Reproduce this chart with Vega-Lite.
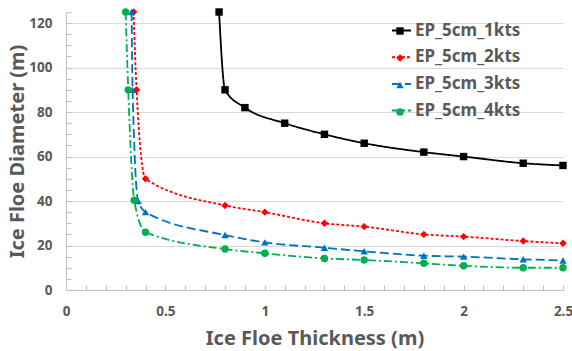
{
  "$schema": "https://vega.github.io/schema/vega-lite/v6.json",
  "width": 497,
  "height": 278,
  "autosize": "none",
  "padding": {"left": 66, "top": 12, "right": 9, "bottom": 61},
  "config": {
    "view": {"stroke": null},
    "font": "Noto Sans",
    "axis": {
      "labelFont": "Noto Sans", "labelFontWeight": "bold", "labelFontSize": 13.5, "labelColor": "#595959",
      "titleFont": "Noto Sans", "titleFontWeight": "bold", "titleFontSize": 20, "titleColor": "#595959",
      "domainColor": "#bfbfbf", "tickColor": "#bfbfbf", "gridColor": "#d9d9d9"
    }
  },
  "data": {"values": [
    {"series": "EP_5cm_1kts", "t": 0.77, "d": 125},
    {"series": "EP_5cm_1kts", "t": 0.80, "d": 90},
    {"series": "EP_5cm_1kts", "t": 0.90, "d": 82},
    {"series": "EP_5cm_1kts", "t": 1.10, "d": 75},
    {"series": "EP_5cm_1kts", "t": 1.30, "d": 70},
    {"series": "EP_5cm_1kts", "t": 1.50, "d": 66},
    {"series": "EP_5cm_1kts", "t": 1.80, "d": 62},
    {"series": "EP_5cm_1kts", "t": 2.00, "d": 60},
    {"series": "EP_5cm_1kts", "t": 2.30, "d": 57},
    {"series": "EP_5cm_1kts", "t": 2.50, "d": 56},
    {"series": "EP_5cm_2kts", "t": 0.34, "d": 125},
    {"series": "EP_5cm_2kts", "t": 0.355, "d": 90},
    {"series": "EP_5cm_2kts", "t": 0.40, "d": 50},
    {"series": "EP_5cm_2kts", "t": 0.80, "d": 38},
    {"series": "EP_5cm_2kts", "t": 1.00, "d": 35},
    {"series": "EP_5cm_2kts", "t": 1.30, "d": 30},
    {"series": "EP_5cm_2kts", "t": 1.50, "d": 28.5},
    {"series": "EP_5cm_2kts", "t": 1.80, "d": 25},
    {"series": "EP_5cm_2kts", "t": 2.00, "d": 24},
    {"series": "EP_5cm_2kts", "t": 2.30, "d": 22},
    {"series": "EP_5cm_2kts", "t": 2.50, "d": 21},
    {"series": "EP_5cm_3kts", "t": 0.33, "d": 125},
    {"series": "EP_5cm_3kts", "t": 0.335, "d": 90},
    {"series": "EP_5cm_3kts", "t": 0.363, "d": 40},
    {"series": "EP_5cm_3kts", "t": 0.40, "d": 35},
    {"series": "EP_5cm_3kts", "t": 0.80, "d": 24.7},
    {"series": "EP_5cm_3kts", "t": 1.00, "d": 21.4},
    {"series": "EP_5cm_3kts", "t": 1.30, "d": 19},
    {"series": "EP_5cm_3kts", "t": 1.50, "d": 17.4},
    {"series": "EP_5cm_3kts", "t": 1.80, "d": 15.4},
    {"series": "EP_5cm_3kts", "t": 2.00, "d": 15},
    {"series": "EP_5cm_3kts", "t": 2.30, "d": 13.8},
    {"series": "EP_5cm_3kts", "t": 2.50, "d": 13.3},
    {"series": "EP_5cm_4kts", "t": 0.30, "d": 125},
    {"series": "EP_5cm_4kts", "t": 0.313, "d": 90},
    {"series": "EP_5cm_4kts", "t": 0.343, "d": 40.4},
    {"series": "EP_5cm_4kts", "t": 0.40, "d": 26},
    {"series": "EP_5cm_4kts", "t": 0.80, "d": 18.4},
    {"series": "EP_5cm_4kts", "t": 1.00, "d": 16.5},
    {"series": "EP_5cm_4kts", "t": 1.30, "d": 14.2},
    {"series": "EP_5cm_4kts", "t": 1.50, "d": 13.5},
    {"series": "EP_5cm_4kts", "t": 1.80, "d": 12},
    {"series": "EP_5cm_4kts", "t": 2.00, "d": 10.9},
    {"series": "EP_5cm_4kts", "t": 2.30, "d": 10},
    {"series": "EP_5cm_4kts", "t": 2.50, "d": 10}
  ]},
  "encoding": {
    "x": {
      "field": "t", "type": "quantitative",
      "scale": {"domain": [0, 2.5], "nice": false, "zero": true},
      "axis": {
        "title": "Ice Floe Thickness (m)",
        "values": [0,0.1,0.2,0.3,0.4,0.5,0.6,0.7,0.8,0.9,1,1.1,1.2,1.3,1.4,1.5,1.6,1.7,1.8,1.9,2,2.1,2.2,2.3,2.4,2.5],
        "labelExpr": "abs(datum.value*2 - round(datum.value*2)) < 0.000001 ? format(datum.value, '~g') : ''",
        "labelFlush": false, "labelBound": false, "labelOverlap": false,
        "grid": false, "tickSize": -5, "labelPadding": 19, "titlePadding": 11
      }
    },
    "y": {
      "field": "d", "type": "quantitative",
      "scale": {"domain": [0, 125], "nice": false},
      "axis": {
        "title": "Ice Floe Diameter (m)",
        "values": [0,5,10,15,20,25,30,35,40,45,50,55,60,65,70,75,80,85,90,95,100,105,110,115,120,125],
        "labelExpr": "datum.value % 20 === 0 ? datum.label : ''",
        "labelFlush": false, "labelBound": false, "labelOverlap": false,
        "grid": true,
        "gridOpacity": {"condition": {"test": "datum.value % 20 === 0 && datum.value > 0", "value": 1}, "value": 0},
        "tickSize": -5, "labelPadding": 19, "titlePadding": 1
      }
    }
  },
  "layer": [
    {
      "mark": {"type": "line", "interpolate": "monotone", "strokeWidth": 1.8},
      "encoding": {
        "stroke": {
          "field": "series", "type": "nominal",
          "scale": {"range": ["#000000", "#ff0000", "#0070c0", "#00b050"]},
          "legend": {
            "title": null, "orient": "none", "legendX": 325, "legendY": 8,
            "symbolType": "stroke", "symbolSize": 361, "symbolStrokeWidth": 2,
            "labelFont": "Noto Sans", "labelFontWeight": "bold", "labelFontSize": 17, "labelColor": "#595959",
            "labelOffset": 3, "rowPadding": 7.7, "padding": 0, "labelLimit": 300
          }
        },
        "strokeDash": {
          "field": "series", "type": "nominal",
          "scale": {"range": [[1, 0], [3, 2], [9, 4], [8, 3, 2, 3]]}
        }
      }
    },
    {
      "mark": {"type": "point", "filled": true, "opacity": 1, "strokeWidth": 0},
      "encoding": {
        "fill": {
          "field": "series", "type": "nominal",
          "scale": {"domain": ["EP_5cm_1kts", "EP_5cm_2kts", "EP_5cm_3kts", "EP_5cm_4kts"], "range": ["#000000", "#ff0000", "#0070c0", "#00b050"]},
          "legend": {
            "title": null, "orient": "none", "legendX": 330, "legendY": 15,
            "symbolSize": 55, "symbolStrokeWidth": 0,
            "labelExpr": "''", "labelFontSize": 1, "labelOffset": 0,
            "rowPadding": 19, "padding": 0
          }
        },
        "shape": {
          "field": "series", "type": "nominal",
          "scale": {"domain": ["EP_5cm_1kts", "EP_5cm_2kts", "EP_5cm_3kts", "EP_5cm_4kts"], "range": ["square", "diamond", "triangle-up", "circle"]}
        },
        "size": {"value": 55}
      }
    }
  ]
}
